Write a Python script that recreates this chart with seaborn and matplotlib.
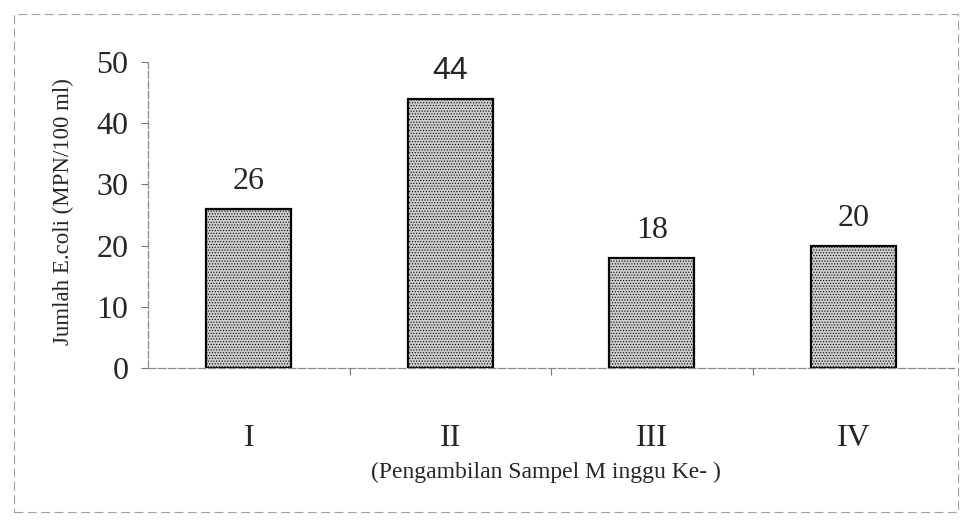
import matplotlib
matplotlib.use("Agg")
import matplotlib.pyplot as plt
import matplotlib.patches as mpatches
import pandas as pd
import seaborn as sns

weeks = ["I", "II", "III", "IV"]
ecoli_counts = [26, 44, 18, 20]
y_ticks = [0, 10, 20, 30, 40, 50]

sns.set_theme(style="white")
plt.rcParams["font.family"] = ["Liberation Serif", "DejaVu Serif"]
plt.rcParams["hatch.color"] = "#8c8c8c"
plt.rcParams["hatch.linewidth"] = 0.5

df = pd.DataFrame({"week": weeks, "count": ecoli_counts})

fig = plt.figure(figsize=(9.72, 5.26), dpi=100)
ax = fig.add_axes([148 / 972, 1 - 368 / 526, 806 / 972, 306 / 526])

sns.barplot(data=df, x="week", y="count", color="#cdcdcd", width=0.42,
            edgecolor="black", linewidth=1.6, ax=ax)
for bar in ax.patches:
    bar.set_hatch("......")

for i, v in enumerate(ecoli_counts):
    fam = ["Liberation Sans"] if v == 44 else ["Liberation Serif"]
    ax.annotate(str(v), xy=(i, v), xytext=(0, 9), textcoords="offset points",
                ha="center", va="bottom", fontsize=23, family=fam)

ax.set_xlim(-0.5, 3.5)
ax.set_ylim(0, 50)
ax.set_yticks(y_ticks)
ax.tick_params(axis="y", labelsize=23, length=5, width=0.8, color="#777777",
               direction="out", left=True, pad=9)
ax.tick_params(axis="x", which="major", labelsize=23, length=0, pad=40)
ax.set_xticks([0.5, 1.5, 2.5], minor=True)
ax.tick_params(axis="x", which="minor", length=5, width=0.8, color="#777777",
               direction="out", bottom=True)

for side in ["top", "right"]:
    ax.spines[side].set_visible(False)
for side in ["left", "bottom"]:
    ax.spines[side].set_color("#8a8a8a")
    ax.spines[side].set_linewidth(0.9)
    ax.spines[side].set_linestyle((0, (6, 2)))

ax.set_ylabel("Jumlah E.coli (MPN/100 ml)", fontsize=16.5)
ax.yaxis.set_label_coords(-0.092, 0.51)
ax.set_xlabel("(Pengambilan Sampel M inggu Ke- )", fontsize=17)
ax.xaxis.set_label_coords(0.494, -0.305)

border = mpatches.Rectangle((14 / 972, 1 - 512 / 526), 944 / 972, 498 / 526,
                            transform=fig.transFigure, fill=False,
                            edgecolor="#a0a0a0", linewidth=0.8,
                            linestyle=(0, (8, 4)))
fig.patches.append(border)

fig.savefig("out.png", dpi=100)
